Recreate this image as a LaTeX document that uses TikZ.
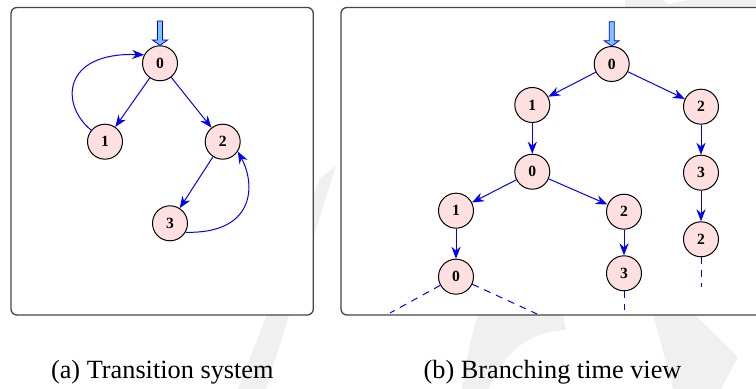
\documentclass[tikz,border=0pt]{standalone}
\usepackage{fontspec}
\setmainfont{Liberation Serif}
\usetikzlibrary{arrows.meta}

\definecolor{nodefill}{RGB}{255,224,224}
\definecolor{initfill}{RGB}{128,196,255}
\definecolor{framegray}{RGB}{70,70,70}
\definecolor{markgray}{RGB}{240,240,240}

\tikzset{
  state/.style={circle, draw=black, line width=0.5pt, fill=nodefill,
    minimum size=17.5pt, inner sep=0pt,
    font=\fontsize{7.8pt}{8pt}\selectfont\bfseries},
  trans/.style={draw=blue, line width=0.5pt,
    -{Stealth[length=6pt, width=4.6pt, inset=2pt]}},
  cont/.style={draw=blue, line width=0.5pt, dash pattern=on 3.5pt off 3pt},
  frame/.style={draw=framegray, line width=0.65pt, fill=white, rounded corners=3pt},
  initarrow/.style={draw=blue, line width=0.4pt, fill=initfill},
  caption/.style={font=\fontsize{13.15pt}{16pt}\selectfont, anchor=base, inner sep=0pt},
  wmark/.style={fill=markgray, draw=none}
}

% initial-state marker: a hollow downward arrow ending on the node's top
\newcommand{\initmark}[1]{%
  \draw[initarrow] (#1.north) -- ++(-7.5,-5.3) -- ++(5,0) -- ++(0,-19)
    -- ++(5,0) -- ++(0,19) -- ++(5,0) -- cycle;}

\begin{document}
\begin{tikzpicture}[x=0.5pt, y=-0.5pt]
\useasboundingbox (0,0) rectangle (756,389);
\clip (0,0) rectangle (756,389);

% faint background watermark strokes
\fill[wmark] (320,178) -- (336,166) -- (266,389) -- (238,389) -- cycle;
\fill[wmark] (480,310) -- (562,310) -- (566,330)
  .. controls (530,332) and (508,348) .. (488,389) -- (462,389)
  .. controls (466,360) and (472,330) .. (480,310) -- cycle;
\fill[wmark] (652,310) -- (690,310) -- (738,357) -- (721,389) -- (673,389) -- cycle;
\fill[wmark] (625,0) rectangle (756,10);
\fill[white] (663,0) -- (688,0) -- (668,4) -- cycle;

% panel frames
\draw[frame] (11,7.5) rectangle (313.3,315);
\draw[frame] (341,7.5) rectangle (780,315);

% (a) transition system
\node[state] (a0) at (160,63.3) {0};
\node[state] (a1) at (105,141.7) {1};
\node[state] (a2) at (222.7,141.7) {2};
\node[state] (a3) at (170,223.3) {3};
\initmark{a0}
\draw[trans] (a0) -- (a1);
\draw[trans] (a0) -- (a2);
\draw[trans] (a2) -- (a3);
\draw[trans] (a1.140) .. controls (60,105) and (62,52) .. (a0.152);
\draw[trans] (a3.-30) .. controls (255,234) and (256,185) .. (a2.-33);

% (b) branching time view
\node[state] (b0)    at (611.7,64)   {0};
\node[state] (b1)    at (532.3,105)  {1};
\node[state] (b2)    at (701,106.7)  {2};
\node[state] (b10)   at (532.3,171.7){0};
\node[state] (b23)   at (701,172.7)  {3};
\node[state] (b101)  at (456,210.7)  {1};
\node[state] (b102)  at (624,211.7)  {2};
\node[state] (b232)  at (701,239.3)  {2};
\node[state] (b1010) at (456,276.7)  {0};
\node[state] (b1023) at (624,273.3)  {3};
\initmark{b0}
\draw[trans] (b0) -- (b1);
\draw[trans] (b0) -- (b2);
\draw[trans] (b1) -- (b10);
\draw[trans] (b2) -- (b23);
\draw[trans] (b10) -- (b101);
\draw[trans] (b10) -- (b102);
\draw[trans] (b23) -- (b232);
\draw[trans] (b101) -- (b1010);
\draw[trans] (b102) -- (b1023);

% unfolding continues below the frame
\coordinate (e1) at (390,313);
\coordinate (e2) at (537,314);
\coordinate (e3) at (624,310);
\coordinate (e4) at (701,287);
\draw[cont] (b1010) -- (e1);
\draw[cont] (b1010) -- (e2);
\draw[cont] (b1023.south) -- (e3);
\draw[cont] (b232.south) -- (e4);

% captions
\node[caption] (capa) at (162.3,378.5) {(a) Transition system};
\node[caption] (capb) at (552.5,378.5) {(b) Branching time view};
\end{tikzpicture}
\end{document}
